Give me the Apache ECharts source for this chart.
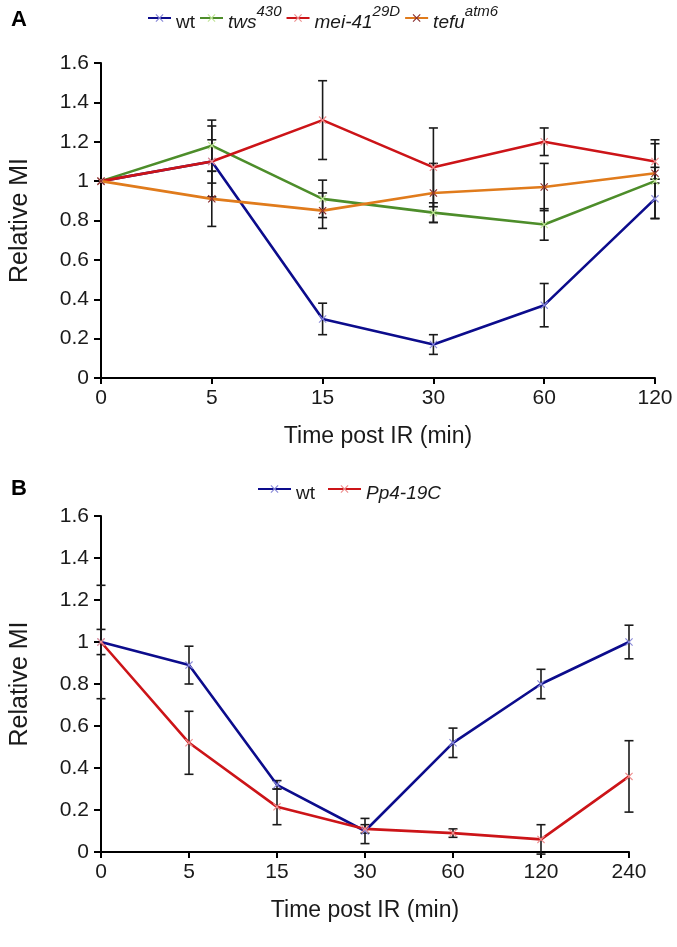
<!DOCTYPE html>
<html>
<head>
<meta charset="utf-8">
<script src="https://cdn.jsdelivr.net/npm/echarts@6/dist/echarts.min.js"></script>
<style>html,body{margin:0;padding:0;background:#fff}#c{width:677px;height:947px}</style>
</head>
<body>
<div id="c"></div>
<script>
// ---------- Panel A data ----------
const timesA = ['0', '5', '15', '30', '60', '120'];
const wtA = [1, 1.10, 0.30, 0.17, 0.37, 0.91];
const wtAErr = [0, 0.18, 0.08, 0.05, 0.11, 0.10];
const twsA = [1, 1.18, 0.91, 0.84, 0.78, 1.00];
const twsAErr = [0, 0.13, 0.095, 0.05, 0.08, 0.19];
const meiA = [1, 1.10, 1.31, 1.07, 1.20, 1.10];
const meiAErr = [0, 0.11, 0.20, 0.20, 0.07, 0.11];
const tefuA = [1, 0.91, 0.85, 0.94, 0.97, 1.04];
const tefuAErr = [0, 0.14, 0.09, 0.15, 0.12, 0.03];

// ---------- Panel B data ----------
const timesB = ['0', '5', '15', '30', '60', '120', '240'];
const wtB = [1, 0.89, 0.32, 0.10, 0.52, 0.80, 1.00];
const wtBErr = [0.06, 0.09, 0.02, 0.06, 0.07, 0.07, 0.08];
const ppB = [1, 0.52, 0.215, 0.11, 0.09, 0.06, 0.36];
const ppBErr = [0.27, 0.15, 0.085, 0.02, 0.02, 0.07, 0.17];

const yTicks = [0, 0.2, 0.4, 0.6, 0.8, 1, 1.2, 1.4, 1.6];

const FONT = 'Liberation Sans, Arial, sans-serif';
const XSYM = 'path://M0,1 L1,0 L5,4 L9,0 L10,1 L6,5 L10,9 L9,10 L5,6 L1,10 L0,9 L4,5 Z';

function errData(vals, errs) {
  return vals.map((v, i) => [i, v - errs[i], v + errs[i]]);
}
function renderErr(params, api) {
  const x = api.value(0), lo = api.value(1), hi = api.value(2);
  if (hi - lo < 1e-9) return null;
  const a = api.coord([x, hi]), b = api.coord([x, lo]);
  const w = 4.5;
  const st = { stroke: '#1a1a1a', lineWidth: 1.6 };
  return { type: 'group', children: [
    { type: 'line', shape: { x1: a[0], y1: a[1], x2: b[0], y2: b[1] }, style: st },
    { type: 'line', shape: { x1: a[0] - w, y1: a[1], x2: a[0] + w, y2: a[1] }, style: st },
    { type: 'line', shape: { x1: b[0] - w, y1: b[1], x2: b[0] + w, y2: b[1] }, style: st }
  ]};
}
function errSeries(vals, errs, idx) {
  return { type: 'custom', xAxisIndex: idx, yAxisIndex: idx, renderItem: renderErr,
    data: errData(vals, errs), z: 1, silent: true };
}
function lineSeries(name, vals, color, mcolor, idx) {
  return { name: name, type: 'line', xAxisIndex: idx, yAxisIndex: idx, data: vals,
    symbol: XSYM, symbolSize: 8, showSymbol: true,
    lineStyle: { color: color, width: 2.6 },
    itemStyle: { color: mcolor }, z: 3 };
}
function xAxis(cats, idx) {
  return { type: 'category', gridIndex: idx, data: cats, boundaryGap: false,
    axisLine: { lineStyle: { color: '#000', width: 2 } },
    axisTick: { show: true, inside: false, length: 6, lineStyle: { color: '#000', width: 2 }, alignWithLabel: true },
    axisLabel: { color: '#1a1a1a', fontSize: 21, fontFamily: FONT, margin: 10 },
    name: 'Time post IR (min)', nameLocation: 'middle', nameGap: 47,
    nameTextStyle: { color: '#1a1a1a', fontSize: 23, fontFamily: FONT },
    splitLine: { show: false } };
}
function yAxis(idx) {
  return { type: 'value', gridIndex: idx, min: 0, max: 1.6, interval: 0.2,
    axisLine: { show: true, lineStyle: { color: '#000', width: 2 } },
    axisTick: { show: true, length: 7, lineStyle: { color: '#000', width: 2 } },
    axisLabel: { color: '#1a1a1a', fontSize: 21, fontFamily: FONT, margin: 12,
      formatter: v => { const t = yTicks.find(k => Math.abs(k - v) < 1e-6); return t === undefined ? '' : String(t); } },
    name: 'Relative MI', nameLocation: 'middle', nameGap: 68,
    nameTextStyle: { color: '#1a1a1a', fontSize: 25, fontFamily: FONT },
    splitLine: { show: false } };
}

const rich = {
  n: { fontSize: 19, fontFamily: FONT, color: '#1a1a1a', lineHeight: 28, verticalAlign: 'bottom' },
  i: { fontSize: 19, fontFamily: FONT, fontStyle: 'italic', color: '#1a1a1a', lineHeight: 28, verticalAlign: 'bottom' },
  s: { fontSize: 15, fontFamily: FONT, fontStyle: 'italic', color: '#1a1a1a', lineHeight: 28, verticalAlign: 'top' }
};
const legendFmt = {
  'wt': '{n|wt}',
  'tws430': '{i|tws}{s|430}',
  'mei-41 29D': '{i|mei-41}{s|29D}',
  'tefu atm6': '{i|tefu}{s|atm6}',
  'wt ': '{n|wt}',
  'Pp4-19C': '{i|Pp4-19C}'
};

const chart = echarts.init(document.getElementById('c'), null, { renderer: 'canvas' });
chart.setOption({
  backgroundColor: '#fff',
  animation: false,
  textStyle: { fontFamily: FONT },
  graphic: [
    { type: 'text', left: 11, top: 9, style: { text: 'A', font: 'bold 22px ' + FONT, fill: '#000' } },
    { type: 'text', left: 11, top: 478, style: { text: 'B', font: 'bold 22px ' + FONT, fill: '#000' } }
  ],
  legend: [
    { data: ['wt', 'tws430', 'mei-41 29D', 'tefu atm6'], left: 142, top: -1, itemWidth: 23, itemHeight: 10,
      itemGap: 4, formatter: n => legendFmt[n], textStyle: { rich: rich } },
    { data: ['wt ', 'Pp4-19C'], left: 252, top: 479, itemWidth: 33, itemHeight: 10,
      itemGap: 12, formatter: n => legendFmt[n], textStyle: { rich: rich } }
  ],
  grid: [
    { left: 100, top: 63, width: 555, height: 315 },
    { left: 100, top: 516, width: 529, height: 336 }
  ],
  xAxis: [xAxis(timesA, 0), xAxis(timesB, 1)],
  yAxis: [yAxis(0), yAxis(1)],
  series: [
    errSeries(wtA, wtAErr, 0), errSeries(twsA, twsAErr, 0), errSeries(meiA, meiAErr, 0), errSeries(tefuA, tefuAErr, 0),
    lineSeries('wt', wtA, '#0c0c8c', '#8a8ad8', 0),
    lineSeries('tws430', twsA, '#4d8d2a', '#c2e59a', 0),
    lineSeries('mei-41 29D', meiA, '#cc1418', '#ee8f8f', 0),
    lineSeries('tefu atm6', tefuA, '#e07b1c', '#8a2f2f', 0),
    errSeries(wtB, wtBErr, 1), errSeries(ppB, ppBErr, 1),
    lineSeries('wt ', wtB, '#0c0c8c', '#8a8ad8', 1),
    lineSeries('Pp4-19C', ppB, '#cc1418', '#ee8f8f', 1)
  ]
});
</script>
</body>
</html>
